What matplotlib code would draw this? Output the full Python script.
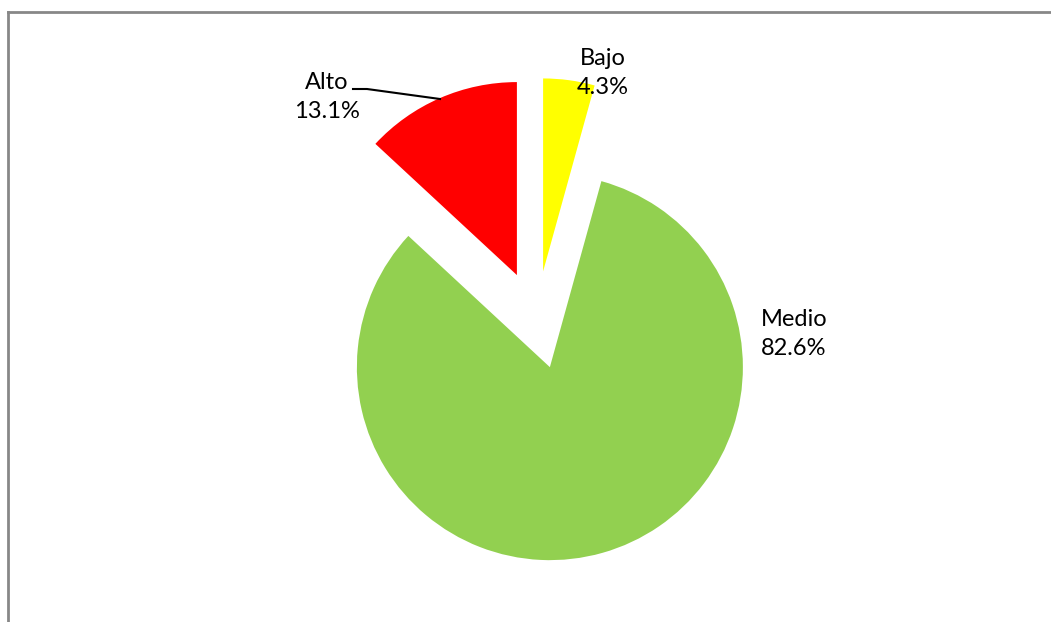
import matplotlib.pyplot as plt
from matplotlib.lines import Line2D

labels = ['Bajo', 'Medio', 'Alto']
values = [4.3, 82.6, 13.1]
colors = ['#FFFF00', '#92D050', '#FF0000']

W, H = 1051, 622
plt.rcParams['font.family'] = ['Lato', 'DejaVu Sans']

fig = plt.figure(figsize=(W / 100, H / 100), dpi=100)
ax = fig.add_axes([0, 0, 1, 1])
ax.set_xlim(0, W)
ax.set_ylim(0, H)
ax.set_aspect('equal')
ax.axis('off')

# pie centre and radius in pixels (y measured from bottom); explode is in data units here
cx, cy, r = 536.5, H - 320, 193
ax.pie(values, colors=colors, startangle=90, counterclock=False,
       explode=[49] * 3, center=(cx, cy), radius=r,
       wedgeprops=dict(linewidth=0))
ax.set_xlim(0, W)
ax.set_ylim(0, H)

# data labels
lab_pos = {'Bajo': (603, 73), 'Medio': (794, 334), 'Alto': (327, 97)}
for name, v in zip(labels, values):
    x, y = lab_pos[name]
    ax.text(x, H - y, f'{name}\n{v}%', ha='center', va='center',
            fontsize=17, linespacing=1.45)

# leader line for Alto
ax.plot([353, 367, 440], [H - 89, H - 89, H - 99], color='black', lw=1.5)

# chart area border (only top and left visible)
fig.add_artist(Line2D([8 / W, 8 / W], [0, 1 - 12 / H], color='#878787', lw=2,
                      transform=fig.transFigure))
fig.add_artist(Line2D([8 / W, 1], [1 - 12 / H, 1 - 12 / H], color='#878787', lw=2,
                      transform=fig.transFigure))

fig.savefig('out.png', dpi=100)
